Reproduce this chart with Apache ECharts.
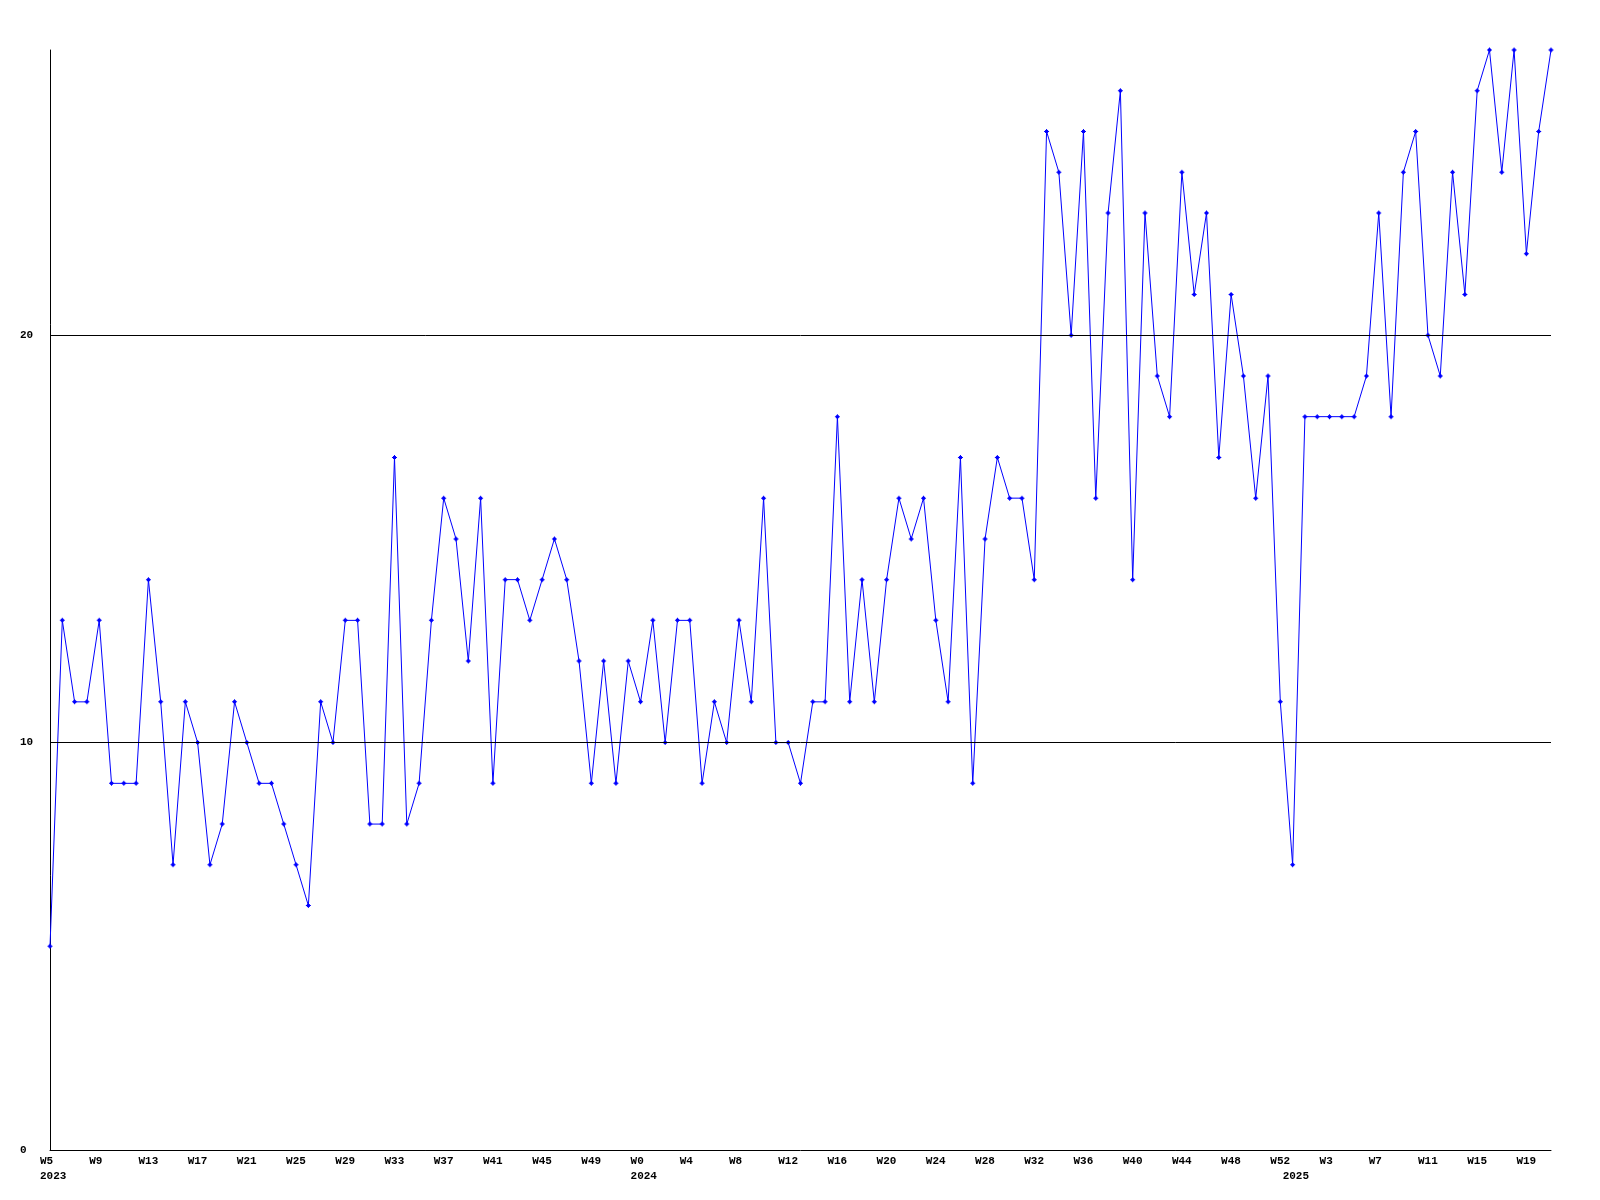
<!DOCTYPE html>
<html>
<head>
<meta charset="utf-8">
<script src="https://cdn.jsdelivr.net/npm/echarts@6/dist/echarts.min.js"></script>
<style>
html,body{margin:0;padding:0;background:#fff;}
#chart{width:1600px;height:1200px;}
</style>
</head>
<body>
<div id="chart"></div>
<script>
// Years covered and their week ranges (week labels like W0..W52)
const years = ['2023', '2024', '2025'];
const firstWeek = [5, 0, 0];
const lastWeek = [52, 52, 21];

// Weekly values, in order from 2023 W5 to 2025 W21
const values = [
  5, 13, 11, 11, 13, 9, 9, 9, 14, 11,
  7, 11, 10, 7, 8, 11, 10, 9, 9, 8,
  7, 6, 11, 10, 13, 13, 8, 8, 17, 8,
  9, 13, 16, 15, 12, 16, 9, 14, 14, 13,
  14, 15, 14, 12, 9, 12, 9, 12, 11, 13,
  10, 13, 13, 9, 11, 10, 13, 11, 16, 10,
  10, 9, 11, 11, 18, 11, 14, 11, 14, 16,
  15, 16, 13, 11, 17, 9, 15, 17, 16, 16,
  14, 25, 24, 20, 25, 16, 23, 26, 14, 23,
  19, 18, 24, 21, 23, 17, 21, 19, 16, 19,
  11, 7, 18, 18, 18, 18, 18, 19, 23, 18,
  24, 25, 20, 19, 24, 21, 26, 27, 24, 27,
  22, 25, 27
];

// Y axis ticks / grid lines
const yTicks = [0, 10, 20];
const yMax = 27;

// Build categories
const weekLabels = [];
const yearLabels = [];
for (let y = 0; y < years.length; y++) {
  for (let w = firstWeek[y]; w <= lastWeek[y]; w++) {
    weekLabels.push('W' + w);
    yearLabels.push(w === firstWeek[y] ? years[y] : '');
  }
}
const cats = weekLabels.map((w, i) => i);

const FONT = 'Liberation Mono';
const chart = echarts.init(document.getElementById('chart'), null, {renderer: 'canvas'});
chart.setOption({
  animation: false,
  backgroundColor: '#ffffff',
  grid: {left: 50, right: 49, top: 50, bottom: 50, containLabel: false},
  xAxis: [
    {
      type: 'category',
      data: cats,
      boundaryGap: false,
      position: 'bottom',
      axisLine: {show: true, lineStyle: {color: '#000', width: 1}},
      axisTick: {show: false},
      splitLine: {show: false},
      axisLabel: {
        interval: 3,
        formatter: (v, i) => weekLabels[i],
        align: 'left',
        padding: [0, 0, 0, -10],
        margin: 6,
        fontFamily: FONT,
        fontWeight: 'bold',
        fontSize: 11,
        color: '#000'
      }
    },
    {
      type: 'category',
      data: cats,
      boundaryGap: false,
      position: 'bottom',
      offset: 15,
      axisLine: {show: false},
      axisTick: {show: false},
      splitLine: {show: false},
      axisLabel: {
        interval: (i) => yearLabels[i] !== '',
        formatter: (v, i) => yearLabels[i],
        align: 'left',
        padding: [0, 0, 0, -10],
        margin: 6,
        fontFamily: FONT,
        fontWeight: 'bold',
        fontSize: 11,
        color: '#000'
      }
    }
  ],
  yAxis: {
    type: 'value',
    min: 0,
    max: yMax,
    interval: 10,
    axisLine: {show: true, lineStyle: {color: '#000', width: 1}},
    axisTick: {show: false},
    splitLine: {show: false},
    axisLabel: {
      showMaxLabel: false,
      formatter: (v) => (yTicks.indexOf(v) >= 0 ? String(v) : ''),
      align: 'left',
      margin: 30,
      fontFamily: FONT,
      fontWeight: 'bold',
      fontSize: 11,
      color: '#000'
    }
  },
  series: [
    {
      type: 'line',
      xAxisIndex: 0,
      data: values,
      symbol: 'path://M2,0H3V1H4V2H5V3H4V4H3V5H2V4H1V3H0V2H1V1H2Z',
      symbolSize: 5,
      showAllSymbol: true,
      itemStyle: {color: '#0000ff'},
      lineStyle: {color: '#0000ff', width: 1},
      z: 3,
      markLine: {
        silent: true,
        symbol: ['none', 'none'],
        label: {show: false},
        lineStyle: {color: '#000', width: 1, type: 'solid'},
        data: yTicks.filter(t => t > 0).map(t => ({yAxis: t}))
      }
    }
  ]
});
</script>
</body>
</html>
